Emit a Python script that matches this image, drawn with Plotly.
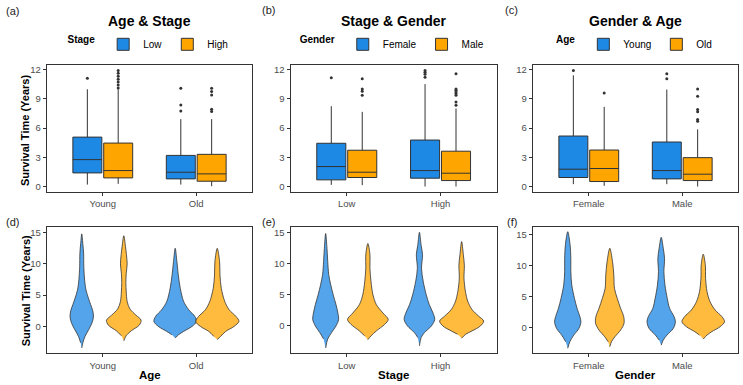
import plotly.graph_objects as go

# ---------------- categories ----------------
age_cats = ["Young", "Old"]
stage_cats = ["Low", "High"]
gender_cats = ["Female", "Male"]

# ---------------- (a) Age & Stage : box summaries (x = Age, group = Stage) ----------------
a_low_q1 = [1.42, 0.81]
a_low_med = [2.78, 1.49]
a_low_q3 = [5.08, 3.21]
a_low_lo = [0.23, 0.23]
a_low_hi = [9.97, 6.92]
a_low_out = [[11.09], [7.76, 8.37, 10.07]]
a_high_q1 = [0.91, 0.57]
a_high_med = [1.66, 1.32]
a_high_q3 = [4.47, 3.32]
a_high_lo = [0.30, 0.06]
a_high_hi = [9.97, 6.92]
a_high_out = [[10.1, 10.4, 10.7, 11.0, 11.3, 11.6, 11.9], [7.69, 7.93, 9.39, 9.73, 10.07]]

# ---------------- (b) Stage & Gender (x = Stage, group = Gender) ----------------
b_fem_q1 = [0.71, 0.88]
b_fem_med = [2.07, 1.66]
b_fem_q3 = [4.45, 4.78]
b_fem_lo = [0.20, 0.03]
b_fem_hi = [8.24, 10.5]
b_fem_out = [[11.15], [11.2, 11.5, 11.7, 11.9]]
b_male_q1 = [0.95, 0.64]
b_male_med = [1.49, 1.39]
b_male_q3 = [3.74, 3.64]
b_male_lo = [0.17, 0.03]
b_male_hi = [7.66, 8.0]
b_male_out = [[9.36, 9.77, 10.0, 11.05], [8.34, 8.68, 9.36, 9.53, 9.7, 9.87, 10.0, 11.56]]

# ---------------- (c) Gender & Age (x = Gender, group = Age) ----------------
c_young_q1 = [0.95, 0.81]
c_young_med = [1.80, 1.66]
c_young_q3 = [5.19, 4.58]
c_young_lo = [0.27, 0.27]
c_young_hi = [11.4, 9.94]
c_young_out = [[11.9], [11.05, 11.56]]
c_old_q1 = [0.54, 0.64]
c_old_med = [1.87, 1.29]
c_old_q3 = [3.76, 2.98]
c_old_lo = [0.10, 0.03]
c_old_hi = [8.17, 5.87]
c_old_out = [[9.6], [6.71, 6.89, 7.66, 7.9, 9.26, 10.0]]

# ---------------- violin density profiles (value levels, half-width) ----------------
# (d) x = Age, group = Stage
d_young_low_v = [-3.45, -2.6, -1.6, -0.5, 0.5, 1.5, 2.5, 3.5, 4.5, 5.8, 7.4, 9.6, 11.7, 13.3, 14.8]
d_young_low_w = [0, 0.012, 0.035, 0.075, 0.108, 0.125, 0.118, 0.095, 0.072, 0.046, 0.031, 0.022, 0.02, 0.011, 0]
d_young_high_v = [-2.3, -1.5, -0.7, 0.2, 1.0, 1.8, 2.8, 4.0, 5.5, 7.0, 8.5, 10.0, 11.5, 12.8, 14.5]
d_young_high_w = [0, 0.025, 0.08, 0.165, 0.185, 0.13, 0.065, 0.036, 0.026, 0.022, 0.026, 0.036, 0.028, 0.018, 0]
d_old_low_v = [-1.86, -1.33, -0.8, 0, 0.8, 1.6, 2.66, 4.0, 6.1, 8.25, 10.4, 12.5]
d_old_low_w = [0, 0.036, 0.09, 0.18, 0.228, 0.21, 0.145, 0.09, 0.054, 0.033, 0.018, 0]
d_old_high_v = [-2.1, -1.6, -0.8, 0, 0.8, 1.6, 2.66, 4.0, 6.1, 8.25, 10.4, 12.5]
d_old_high_w = [0, 0.036, 0.09, 0.18, 0.232, 0.2, 0.127, 0.08, 0.043, 0.029, 0.025, 0]

# (e) x = Stage, group = Gender
e_low_fem_v = [-3.55, -2.1, -1.06, 0, 1.06, 2.1, 3.45, 5.05, 6.65, 8.25, 10.4, 12.5, 14.9]
e_low_fem_w = [0, 0.022, 0.063, 0.11, 0.138, 0.13, 0.11, 0.08, 0.054, 0.033, 0.022, 0.014, 0]
e_low_male_v = [-2.2, -1.6, -0.8, 0.27, 1.06, 2.1, 3.45, 5.05, 7.2, 9.3, 11.5, 13.3]
e_low_male_w = [0, 0.033, 0.09, 0.18, 0.217, 0.16, 0.09, 0.054, 0.033, 0.022, 0.022, 0]
e_high_fem_v = [-3.2, -1.86, -1.06, 0, 1.06, 2.1, 3.45, 5.05, 7.2, 9.3, 11.5, 13.0, 15.1]
e_high_fem_w = [0, 0.018, 0.054, 0.127, 0.163, 0.145, 0.105, 0.072, 0.04, 0.022, 0.033, 0.018, 0]
e_high_male_v = [-1.97, -1.33, -0.8, 0, 0.8, 1.6, 2.66, 4.0, 5.6, 7.7, 9.8, 11.5, 13.6]
e_high_male_w = [0, 0.043, 0.11, 0.2, 0.235, 0.18, 0.11, 0.065, 0.04, 0.025, 0.029, 0.018, 0]

# (f) x = Gender, group = Age
f_fem_young_v = [-3.3, -2.25, -1.18, -0.1, 0.96, 1.77, 3.1, 4.7, 6.86, 9.0, 11.1, 13.3, 15.4]
f_fem_young_w = [0, 0.022, 0.065, 0.12, 0.141, 0.13, 0.1, 0.072, 0.043, 0.033, 0.033, 0.025, 0]
f_fem_old_v = [-3.05, -2.25, -1.45, -0.37, 0.7, 1.77, 3.1, 4.7, 6.3, 8.46, 10.6, 12.75]
f_fem_old_w = [0, 0.018, 0.054, 0.116, 0.152, 0.149, 0.116, 0.08, 0.05, 0.043, 0.029, 0]
f_male_young_v = [-2.8, -1.98, -1.18, -0.1, 0.96, 1.77, 3.1, 4.7, 6.86, 9.0, 11.1, 12.75, 14.5]
f_male_young_w = [0, 0.022, 0.062, 0.13, 0.152, 0.138, 0.09, 0.065, 0.04, 0.029, 0.036, 0.022, 0]
f_male_old_v = [-1.82, -1.18, -0.64, 0.16, 0.96, 1.77, 2.84, 4.2, 5.8, 7.9, 10.1, 11.8]
f_male_old_w = [0, 0.04, 0.09, 0.18, 0.228, 0.2, 0.127, 0.072, 0.04, 0.025, 0.022, 0]

# ---------------- styling ----------------
FONT = "Liberation Sans, Arial, sans-serif"
BLUE = "#1E88E5"
ORANGE = "#FFA500"
VBLUE = "rgba(30,136,229,0.76)"
VORANGE = "rgba(255,165,0,0.76)"
DARK = "#333333"
TICKC = "#4D4D4D"
W, H = 743, 385
BOX_OFF = 0.165
BOX_W = 0.31
VIO_OFF = 0.225
POS = [1, 2]

xdom_px = [(46.7, 252.3), (290.5, 496.8), (532.7, 738.3)]
ydom_top_px = (65, 191.7)
ydom_bot_px = (226.7, 353.3)


def xd(p):
    return [p[0] / W, p[1] / W]


def yd(p):
    return [1 - p[1] / H, 1 - p[0] / H]


fig = go.Figure()


def add_box(n, name, color, q1, med, q3, lo, hi, outs, side, legend):
    ax = "" if n == 1 else str(n)
    fig.add_trace(go.Box(
        x=[p + side * BOX_OFF for p in POS], q1=q1, median=med, q3=q3,
        lowerfence=lo, upperfence=hi, width=BOX_W,
        name=name, fillcolor=color, line=dict(color=DARK, width=1),
        whiskerwidth=0, boxpoints=False, xaxis="x" + ax, yaxis="y" + ax,
        legend=legend, showlegend=True, hoverinfo="skip"))
    xs, ys = [], []
    for p, o in zip(POS, outs):
        for v in o:
            xs.append(p + side * BOX_OFF)
            ys.append(v)
    fig.add_trace(go.Scatter(
        x=xs, y=ys, mode="markers", marker=dict(color=DARK, size=3),
        xaxis="x" + ax, yaxis="y" + ax, showlegend=False, hoverinfo="skip"))


def add_violin(n, pos, side, vals, half, color):
    ax = str(n)
    c = pos + side * VIO_OFF
    xs = [c + h for h in half] + [c - h for h in reversed(half[1:-1])]
    ys = list(vals) + list(reversed(vals[1:-1]))
    fig.add_trace(go.Scatter(
        x=xs, y=ys, mode="lines", fill="toself", fillcolor=color,
        line=dict(color=DARK, width=0.8, shape="spline", smoothing=0.9),
        xaxis="x" + ax, yaxis="y" + ax, showlegend=False, hoverinfo="skip"))


# top row
add_box(1, "Low", BLUE, a_low_q1, a_low_med, a_low_q3, a_low_lo, a_low_hi, a_low_out, -1, "legend")
add_box(1, "High", ORANGE, a_high_q1, a_high_med, a_high_q3, a_high_lo, a_high_hi, a_high_out, 1, "legend")
add_box(2, "Female", BLUE, b_fem_q1, b_fem_med, b_fem_q3, b_fem_lo, b_fem_hi, b_fem_out, -1, "legend2")
add_box(2, "Male", ORANGE, b_male_q1, b_male_med, b_male_q3, b_male_lo, b_male_hi, b_male_out, 1, "legend2")
add_box(3, "Young", BLUE, c_young_q1, c_young_med, c_young_q3, c_young_lo, c_young_hi, c_young_out, -1, "legend3")
add_box(3, "Old", ORANGE, c_old_q1, c_old_med, c_old_q3, c_old_lo, c_old_hi, c_old_out, 1, "legend3")

# bottom row violins
add_violin(4, POS[0], -1, d_young_low_v, d_young_low_w, VBLUE)
add_violin(4, POS[0], 1, d_young_high_v, d_young_high_w, VORANGE)
add_violin(4, POS[1], -1, d_old_low_v, d_old_low_w, VBLUE)
add_violin(4, POS[1], 1, d_old_high_v, d_old_high_w, VORANGE)
add_violin(5, POS[0], -1, e_low_fem_v, e_low_fem_w, VBLUE)
add_violin(5, POS[0], 1, e_low_male_v, e_low_male_w, VORANGE)
add_violin(5, POS[1], -1, e_high_fem_v, e_high_fem_w, VBLUE)
add_violin(5, POS[1], 1, e_high_male_v, e_high_male_w, VORANGE)
add_violin(6, POS[0], -1, f_fem_young_v, f_fem_young_w, VBLUE)
add_violin(6, POS[0], 1, f_fem_old_v, f_fem_old_w, VORANGE)
add_violin(6, POS[1], -1, f_male_young_v, f_male_young_w, VBLUE)
add_violin(6, POS[1], 1, f_male_old_v, f_male_old_w, VORANGE)

axis_common = dict(showline=True, mirror=True, linecolor=DARK, linewidth=1,
                   ticks="outside", ticklen=3, tickcolor=DARK, tickwidth=1,
                   showgrid=False, zeroline=False,
                   tickfont=dict(family=FONT, size=9.5, color=TICKC))

cats_by_col = [age_cats, stage_cats, gender_cats]
layout = dict(width=W, height=H, margin=dict(l=0, r=0, t=0, b=0),
              paper_bgcolor="white", plot_bgcolor="white",
              font=dict(family=FONT, color="black"), boxmode="overlay")

yranges_bot = [[-4.3, 15.95], [-4.4, 16.0], [-4.1, 16.2]]
for i in range(6):
    n = i + 1
    col = i % 3
    top = i < 3
    xk = "xaxis" if n == 1 else "xaxis%d" % n
    yk = "yaxis" if n == 1 else "yaxis%d" % n
    layout[xk] = dict(axis_common, domain=xd(xdom_px[col]), range=[0.4, 2.6],
                      tickvals=POS, ticktext=cats_by_col[col],
                      anchor="y" if n == 1 else "y%d" % n)
    if top:
        layout[yk] = dict(axis_common, domain=yd(ydom_top_px), range=[-0.5, 12.45],
                          tickvals=[0, 3, 6, 9, 12],
                          anchor="x" if n == 1 else "x%d" % n)
    else:
        layout[yk] = dict(axis_common, domain=yd(ydom_bot_px), range=yranges_bot[col],
                          tickvals=[0, 5, 10, 15], anchor="x%d" % n)

legend_titles = ["Stage", "Gender", "Age"]
for k, t in enumerate(legend_titles):
    key = "legend" if k == 0 else "legend%d" % (k + 1)
    cx = (xdom_px[k][0] + xdom_px[k][1]) / 2 / W
    layout[key] = dict(orientation="h", x=cx, xanchor="center", y=1 - 44.3 / H, yanchor="middle",
                       title=dict(text="<b>%s</b>" % t, side="left",
                                  font=dict(family=FONT, size=10, color="black")),
                       font=dict(family=FONT, size=10, color="black"),
                       itemwidth=30, bgcolor="rgba(0,0,0,0)", borderwidth=0)

fig.update_layout(**layout)

ann = []
titles = ["Age & Stage", "Stage & Gender", "Gender & Age"]
for k, t in enumerate(titles):
    cx = (xdom_px[k][0] + xdom_px[k][1]) / 2 / W
    ann.append(dict(text="<b>%s</b>" % t, x=cx, y=1 - 20.7 / H, xref="paper", yref="paper",
                    xanchor="center", yanchor="middle", showarrow=False,
                    font=dict(family=FONT, size=14, color="black")))
panel_labels = [("(a)", 13, 11), ("(b)", 268, 10), ("(c)", 511, 10),
                ("(d)", 12, 222), ("(e)", 268, 222), ("(f)", 512, 222)]
for t, px, py in panel_labels:
    ann.append(dict(text=t, x=px / W, y=1 - py / H, xref="paper", yref="paper",
                    xanchor="center", yanchor="middle", showarrow=False,
                    font=dict(family=FONT, size=11, color="#222222")))
for cy in [130.5, 290.8]:
    ann.append(dict(text="<b>Survival Time (Years)</b>", x=25.5 / W, y=1 - cy / H,
                    xref="paper", yref="paper", xanchor="center", yanchor="middle",
                    textangle=-90, showarrow=False,
                    font=dict(family=FONT, size=11, color="black")))
xtitles = ["Age", "Stage", "Gender"]
for k, t in enumerate(xtitles):
    cx = (xdom_px[k][0] + xdom_px[k][1]) / 2 / W
    ann.append(dict(text="<b>%s</b>" % t, x=cx, y=1 - 375 / H, xref="paper", yref="paper",
                    xanchor="center", yanchor="middle", showarrow=False,
                    font=dict(family=FONT, size=11.5, color="black")))
fig.update_layout(annotations=ann)

fig.write_html("out.html")
